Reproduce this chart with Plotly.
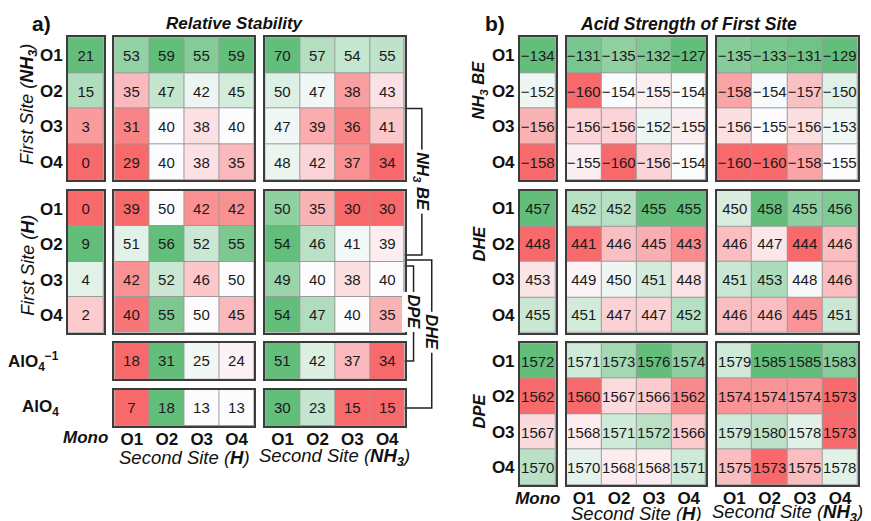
import numpy as np
import plotly.graph_objects as go

W, H = 871, 521
FONT = "Liberation Sans, Arial, sans-serif"

# ---------------- data ----------------
site_labels = ["O1", "O2", "O3", "O4"]
mono_label = ["Mono"]
alo4m_label = ["AlO4-1"]
alo4_label = ["AlO4"]

# Panel a: Relative Stability
a_mono_nh3 = [21, 15, 3, 0]
a_h_nh3 = [[53, 59, 55, 59], [35, 47, 42, 45], [31, 40, 38, 40], [29, 40, 38, 35]]
a_nh3_nh3 = [[70, 57, 54, 55], [50, 47, 38, 43], [47, 39, 36, 41], [48, 42, 37, 34]]
a_mono_h = [0, 9, 4, 2]
a_h_h = [[39, 50, 42, 42], [51, 56, 52, 55], [42, 52, 46, 50], [40, 55, 50, 45]]
a_nh3_h = [[50, 35, 30, 30], [54, 46, 41, 39], [49, 40, 38, 40], [54, 47, 40, 35]]
a_alo4m_h = [18, 31, 25, 24]
a_alo4m_nh3 = [51, 42, 37, 34]
a_alo4_h = [7, 18, 13, 13]
a_alo4_nh3 = [30, 23, 15, 15]

# Panel b: Acid Strength of First Site
b_be_mono = [-134, -152, -156, -158]
b_be_h = [[-131, -135, -132, -127], [-160, -154, -155, -154], [-156, -156, -152, -155], [-155, -160, -156, -154]]
b_be_nh3 = [[-135, -133, -131, -129], [-158, -154, -157, -150], [-156, -155, -156, -153], [-160, -160, -158, -155]]
b_dhe_mono = [457, 448, 453, 455]
b_dhe_h = [[452, 452, 455, 455], [441, 446, 445, 443], [449, 450, 451, 448], [451, 447, 447, 452]]
b_dhe_nh3 = [[450, 458, 455, 456], [446, 447, 444, 446], [451, 453, 448, 446], [446, 446, 445, 451]]
b_dpe_mono = [1572, 1562, 1567, 1570]
b_dpe_h = [[1571, 1573, 1576, 1574], [1560, 1567, 1566, 1562], [1568, 1571, 1572, 1566], [1570, 1568, 1568, 1571]]
b_dpe_nh3 = [[1579, 1585, 1585, 1583], [1574, 1574, 1574, 1573], [1579, 1580, 1578, 1573], [1575, 1573, 1575, 1578]]

# ---------------- layout (pixels) ----------------
a_cols = {"mono": (63.5, 100.0), "h": (110.7, 252.0), "nh3": (263.3, 404.3)}
a_rows = {"nh3": (37.3, 180.0), "h": (191.0, 332.7), "alo4m": (342.7, 379.3), "alo4": (390.0, 426.0)}
b_cols = {"mono": (520.7, 557.3), "h": (568.3, 709.3), "nh3": (720.0, 862.7)}
b_rows = {"be": (37.3, 180.0), "dhe": (190.7, 332.7), "dpe": (343.3, 485.0)}

RED, MID, GREEN = "rgb(248,105,107)", "rgb(252,252,255)", "rgb(99,190,123)"


def col(v):
    return [[x] for x in v]


def scale(z):
    v = np.asarray(z, float).ravel()
    lo, hi, med = v.min(), v.max(), np.median(v)
    t = (med - lo) / (hi - lo) if hi > lo else 0.5
    return lo, hi, [[0, RED], [t, MID], [1, GREEN]]


def fmt(v):
    return str(v).replace("-", "\u2212")


blocks = []


def add(z, xc, yc, cx, ry, showx=False, showy=False, xital=False):
    blocks.append(dict(z=z, x=xc, y=yc, cx=cx, ry=ry, showx=showx, showy=showy, xital=xital))


# panel a
add(col(a_mono_nh3), mono_label, site_labels, a_cols["mono"], a_rows["nh3"], showy=True)
add(a_h_nh3, site_labels, site_labels, a_cols["h"], a_rows["nh3"])
add(a_nh3_nh3, site_labels, site_labels, a_cols["nh3"], a_rows["nh3"])
add(col(a_mono_h), mono_label, site_labels, a_cols["mono"], a_rows["h"], showy=True)
add(a_h_h, site_labels, site_labels, a_cols["h"], a_rows["h"])
add(a_nh3_h, site_labels, site_labels, a_cols["nh3"], a_rows["h"])
add([a_alo4m_h], site_labels, alo4m_label, a_cols["h"], a_rows["alo4m"])
add([a_alo4m_nh3], site_labels, alo4m_label, a_cols["nh3"], a_rows["alo4m"])
add([a_alo4_h], site_labels, alo4_label, a_cols["h"], a_rows["alo4"], showx=True)
add([a_alo4_nh3], site_labels, alo4_label, a_cols["nh3"], a_rows["alo4"], showx=True)
# panel b
add(col(b_be_mono), mono_label, site_labels, b_cols["mono"], b_rows["be"], showy=True)
add(b_be_h, site_labels, site_labels, b_cols["h"], b_rows["be"])
add(b_be_nh3, site_labels, site_labels, b_cols["nh3"], b_rows["be"])
add(col(b_dhe_mono), mono_label, site_labels, b_cols["mono"], b_rows["dhe"], showy=True)
add(b_dhe_h, site_labels, site_labels, b_cols["h"], b_rows["dhe"])
add(b_dhe_nh3, site_labels, site_labels, b_cols["nh3"], b_rows["dhe"])
add(col(b_dpe_mono), mono_label, site_labels, b_cols["mono"], b_rows["dpe"], showx=True, showy=True, xital=True)
add(b_dpe_h, site_labels, site_labels, b_cols["h"], b_rows["dpe"], showx=True)
add(b_dpe_nh3, site_labels, site_labels, b_cols["nh3"], b_rows["dpe"], showx=True)

fig = go.Figure()
lay = {}
tickfont = dict(family=FONT, size=17, color="#111", weight="bold")
for i, b in enumerate(blocks, start=1):
    s = "" if i == 1 else str(i)
    lo, hi, cs = scale(b["z"])
    fig.add_trace(go.Heatmap(
        z=b["z"], x=b["x"], y=b["y"], zmin=lo, zmax=hi, colorscale=cs, showscale=False,
        text=[[fmt(v) for v in row] for row in b["z"]], texttemplate="%{text}",
        textfont=dict(family=FONT, size=15, color="#1a1a1a"),
        xgap=1, ygap=1, hoverinfo="skip", xaxis="x" + s, yaxis="y" + s))
    xt = dict(tickfont)
    if b["xital"]:
        xt["style"] = "italic"
    lay["xaxis" + s] = dict(domain=[b["cx"][0] / W, b["cx"][1] / W], anchor="y" + s, type="category",
                            showticklabels=b["showx"], ticks="", showgrid=False, zeroline=False,
                            showline=True, mirror=True, linecolor="#3c3c3c", linewidth=1.5,
                            tickfont=xt, fixedrange=True, ticklabelstandoff=-3)
    lay["yaxis" + s] = dict(domain=[1 - b["ry"][1] / H, 1 - b["ry"][0] / H], anchor="x" + s, type="category",
                            autorange="reversed", showticklabels=b["showy"], ticks="", showgrid=False,
                            zeroline=False, showline=True, mirror=True, linecolor="#3c3c3c", linewidth=1.5,
                            tickfont=tickfont, fixedrange=True)

fig.update_layout(**lay)


def px(x, y):
    return x / W, 1 - y / H


annotations = []


def ann(text, x, y, size, angle=0, xanchor="center", bold=False, italic=False, bg=None):
    xx, yy = px(x, y)
    f = dict(family=FONT, size=size, color="#111")
    if bold:
        f["weight"] = "bold"
    if italic:
        f["style"] = "italic"
    d = dict(text=text, x=xx, y=yy, xref="paper", yref="paper", showarrow=False, font=f,
             textangle=angle, xanchor=xanchor, yanchor="middle")
    if bg:
        d["bgcolor"] = bg
        d["borderpad"] = 2
    annotations.append(d)


# titles
ann("a)", 37, 24, 21, bold=True)
ann("Relative Stability", 233, 24, 17, bold=True, italic=True)
ann("b)", 496, 24, 21, bold=True)
ann("Acid Strength of First Site", 691, 24, 17.5, bold=True, italic=True)
# panel a side labels
ann("First Site (<b>NH<sub>3</sub></b>)", 23, 104, 18, angle=-90, italic=True)
ann("First Site (<b>H</b>)", 23, 265, 18, angle=-90, italic=True)
ann("AlO<sub>4</sub><sup>\u22121</sup>", 57, 361, 17, xanchor="right", bold=True)
ann("AlO<sub>4</sub>", 57, 408, 17, xanchor="right", bold=True)
ann("Mono", 81.8, 437, 17, bold=True, italic=True)
ann("Second Site (<b>H</b>)", 181.3, 457, 18.5, italic=True)
ann("Second Site (<b>NH<sub>3</sub></b>)", 333.8, 457, 18.5, italic=True)
# panel b side labels
ann("NH<sub>3</sub> BE", 480, 90, 16.5, angle=-90, bold=True, italic=True)
ann("DHE", 480, 243, 16.5, angle=-90, bold=True, italic=True)
ann("DPE", 480, 411, 16.5, angle=-90, bold=True, italic=True)
ann("Second Site (<b>H</b>)", 638.8, 513, 18.5, italic=True)
ann("Second Site (<b>NH<sub>3</sub></b>)", 791.3, 513, 18.5, italic=True)
# bracket labels
ann("NH<sub>3</sub> BE", 421.7, 182, 16.5, angle=90, bold=True, italic=True, bg="white")
ann("DHE", 431.7, 332, 16.5, angle=90, bold=True, italic=True, bg="white")
ann("DPE", 413.3, 312, 16.5, angle=90, bold=True, italic=True, bg="white")

# bracket lines (decoration)
edge = a_cols["nh3"][1]


def ypx(y):
    return 1 - y / H


def xpx(x):
    return x / W


def bracket(y_top, y_bot, x_out):
    return dict(type="path", xref="paper", yref="paper",
                path=f"M {xpx(edge)},{ypx(y_top)} L {xpx(x_out)},{ypx(y_top)} L {xpx(x_out)},{ypx(y_bot)} L {xpx(edge)},{ypx(y_bot)}",
                line=dict(color="#222", width=1.5), layer="below")


shapes = [bracket(108.5, 255, 421.7), bracket(260, 408, 431.7), bracket(266, 361, 413.3)]

fig.update_layout(width=W, height=H, margin=dict(l=0, r=0, t=0, b=0), autosize=False,
                  paper_bgcolor="white", plot_bgcolor="#9a9a9a",
                  annotations=annotations, shapes=shapes, showlegend=False,
                  font=dict(family=FONT))
fig.write_html("out.html")
